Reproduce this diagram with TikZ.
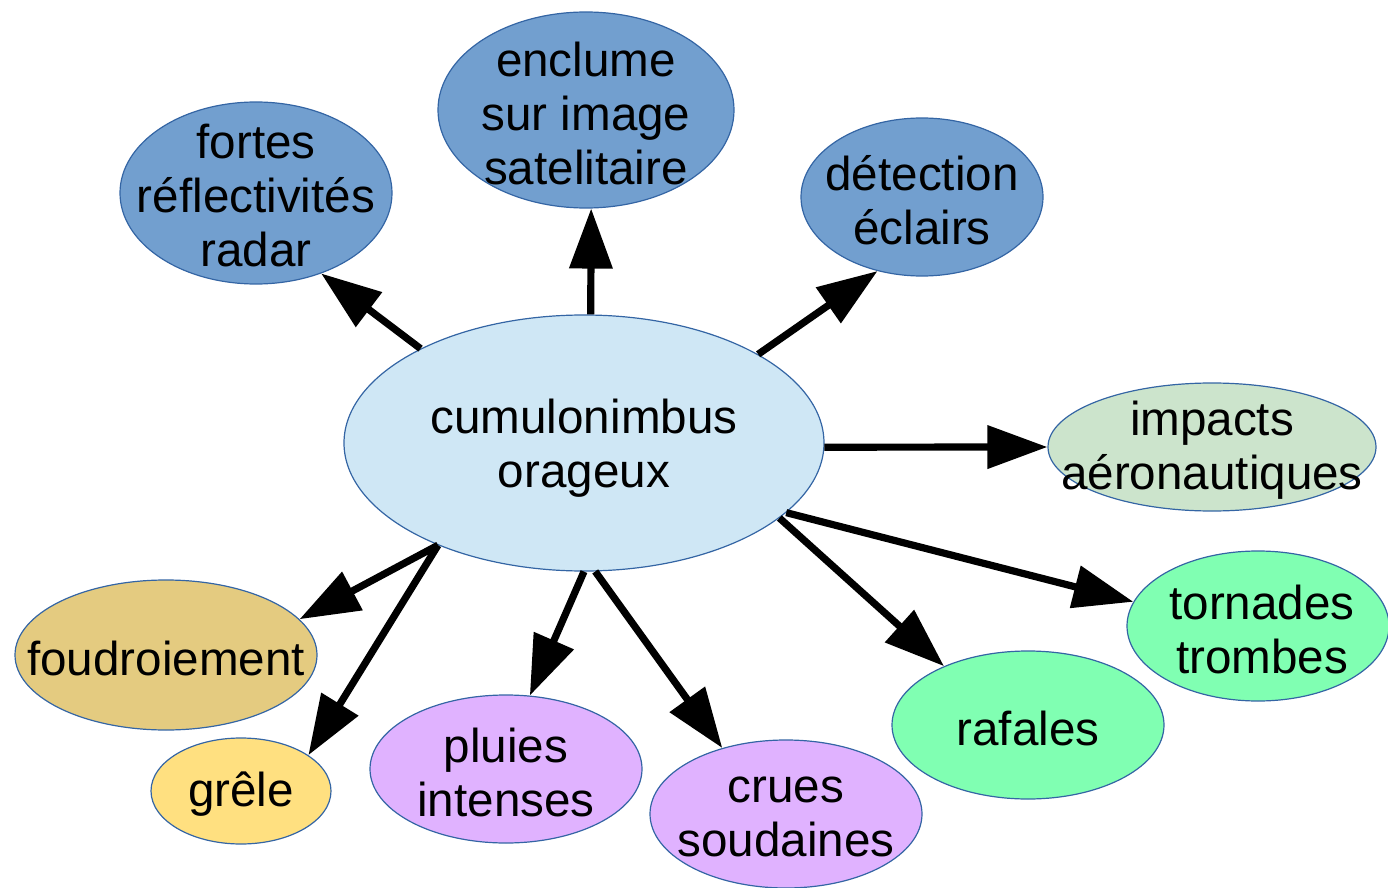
\documentclass[tikz,border=0pt]{standalone}
\usepackage{fontspec}
\setmainfont{Liberation Sans}
\usetikzlibrary{shapes.geometric,arrows.meta}
\definecolor{cline}{RGB}{52,101,164}
\definecolor{cdark}{RGB}{114,159,207}
\definecolor{clight}{RGB}{207,231,245}
\definecolor{cimp}{RGB}{204,228,204}
\definecolor{cgreen}{RGB}{128,255,178}
\definecolor{cpurple}{RGB}{224,178,255}
\definecolor{cfoud}{RGB}{228,203,128}
\definecolor{cgrele}{RGB}{255,224,128}
\begin{document}
\begin{tikzpicture}[x=0.5pt,y=-0.5pt,
  ell/.style={ellipse,draw=cline,line width=0.6pt,inner sep=0pt},
  txt/.style={align=center,font=\fontsize{23.8}{27}\selectfont,inner sep=0pt,yshift=-1.5pt},
  arr/.style={line width=3.6pt,-{Triangle[length=30pt,width=21pt]}}]
\useasboundingbox (0,0) rectangle (1388,888);
% ellipses
\node[ell,fill=cdark,minimum width=136pt,minimum height=91pt] (fr) at (256,193) {};
\node[ell,fill=cdark,minimum width=148pt,minimum height=98pt] (enc) at (586,110) {};
\node[ell,fill=cdark,minimum width=121pt,minimum height=79pt] (det) at (922,197) {};
\node[ell,fill=clight,minimum width=240pt,minimum height=128pt] (cb) at (584,443) {};
\node[ell,fill=cimp,minimum width=164pt,minimum height=64pt] (imp) at (1212,447) {};
\node[ell,fill=cgreen,minimum width=131pt,minimum height=75pt] (tor) at (1258,626) {};
\node[ell,fill=cgreen,minimum width=136pt,minimum height=74pt] (raf) at (1028,725) {};
\node[ell,fill=cpurple,minimum width=136pt,minimum height=74pt] (cru) at (786,814) {};
\node[ell,fill=cpurple,minimum width=136pt,minimum height=74pt] (plu) at (506,769) {};
\node[ell,fill=cfoud,minimum width=151pt,minimum height=75pt] (fou) at (166,655) {};
\node[ell,fill=cgrele,minimum width=90pt,minimum height=53pt] (gre) at (241,791) {};
% texts
\node[txt] (frt) at (fr) {fortes\\réflectivités\\radar};
\node[txt] (enct) at (enc) {enclume\\sur image\\satelitaire};
\node[txt] (dett) at (det) {détection\\éclairs};
\node[txt] (cbt) at (584,445) {cumulonimbus\\orageux};
\node[txt] (impt) at (imp) {impacts\\aéronautiques};
\node[txt] (tort) at (1262,626) {tornades\\trombes};
\node[txt] (raft) at (raf) {rafales};
\node[txt] (crut) at (cru) {crues\\soudaines};
\node[txt] (plut) at (plu) {pluies\\intenses};
\node[txt] (fout) at (fou) {foudroiement};
\node[txt] (gret) at (gre) {grêle};
% arrows
\draw[arr] (cb.150.9) -- (fr.-51.9);
\draw[arr] (cb.87) -- (enc.-87);
\draw[arr] (cb.27.3) -- (det.-121.5);
\draw[arr] (cb.-1) -- (imp.180);
\draw[arr] (cb.-19.5) -- (tor.169.9);
\draw[arr] (cb.-21.5) -- (raf.145.2);
\draw[arr] (cb.-85.9) -- (cru.134.5);
\draw[arr] (cb.-90) -- (plu.72.5);
\draw[arr] (cb.-145.6) -- (fou.15.1);
\draw[arr] (cb.-145) -- (gre.28);
\end{tikzpicture}
\end{document}
